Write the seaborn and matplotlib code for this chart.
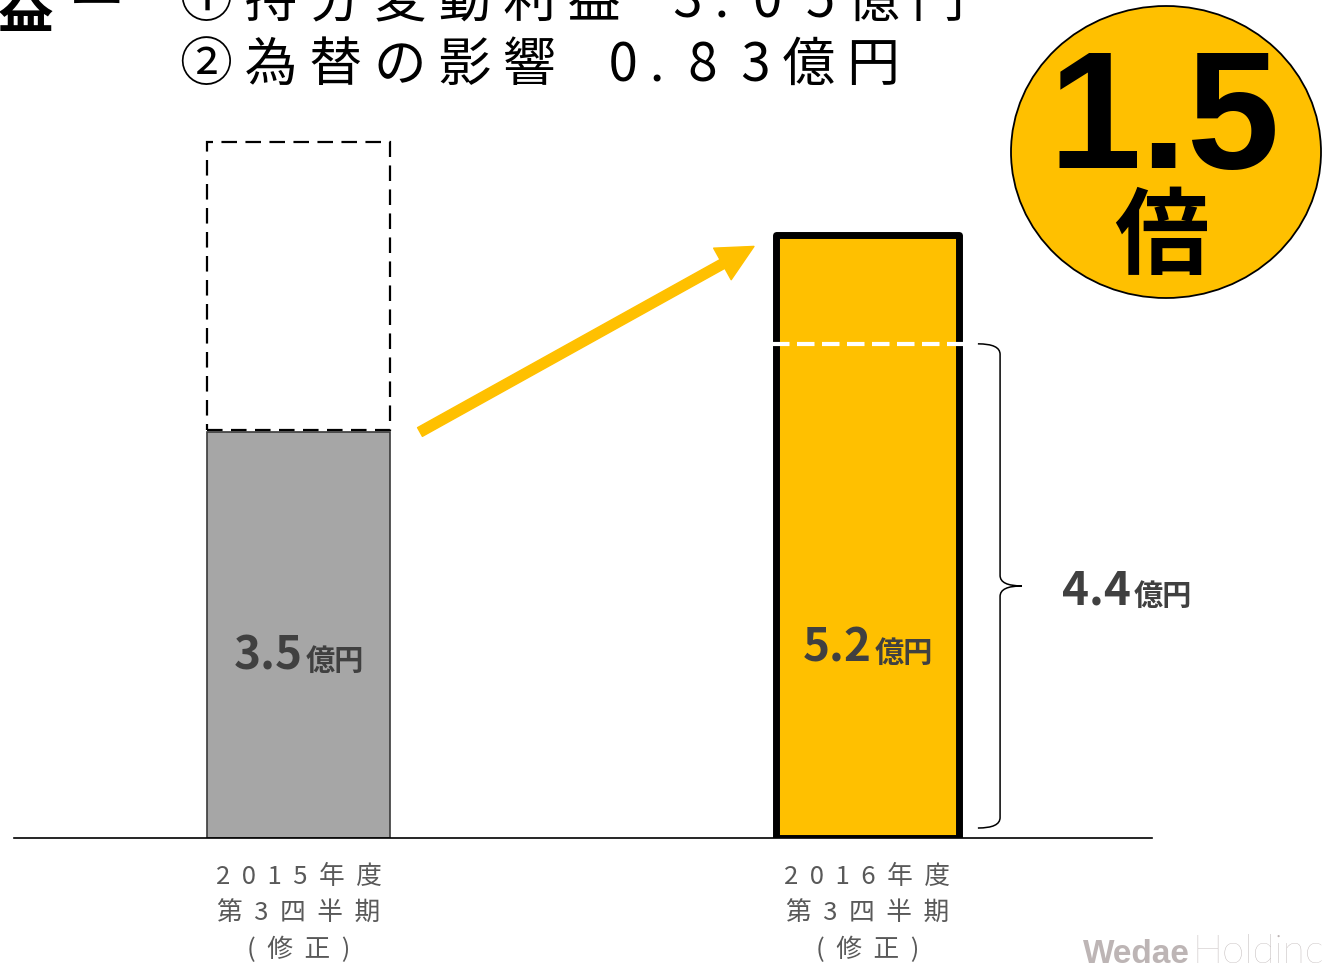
import matplotlib
matplotlib.use("Agg")
import matplotlib.pyplot as plt
import seaborn as sns
import pandas as pd
from matplotlib.patches import Rectangle, Ellipse, PathPatch
from matplotlib.path import Path

# data
periods = ["2015年度第3四半期（修正）", "2016年度第3四半期（修正）"]
profit = [3.5, 5.2]           # 億円
ghost_top = 6.0               # dashed outline above the 2015 bar
split_level = 4.26            # white dashed line inside the 2016 bar
split_value = 4.4             # 億円, shown next to the brace
ratio = 1.5
tick_labels = ["2  0  1  5  年  度\n第  3  四  半  期\n(  修  正  )",
               "2  0  1  6  年  度\n第  3  四  半  期\n(  修  正  )"]
note_lines = ["① 持 分 変 動 利 益　3 .  0  5 億 円",
              "② 為 替 の 影 響　0 .  8  3 億 円"]
bar_colors = ["#A6A6A6", "#FFC000"]

W, H = 1325, 966
sns.set_theme(style="white")
plt.rcParams["font.family"] = ["Noto Sans CJK JP", "DejaVu Sans"]

fig = plt.figure(figsize=(W / 100, H / 100), dpi=100)
ax = fig.add_axes([14 / W, 128 / H, 1138 / W, 838 / H])

df = pd.DataFrame({"period": periods, "profit": profit})
sns.barplot(data=df, x="period", y="profit", hue="period", palette=bar_colors,
            saturation=1, width=0.322, legend=False, ax=ax)

ax.set_xlim(-0.5, 1.5)
ax.set_ylim(0, 838 / 116)
for s in ["top", "right", "left"]:
    ax.spines[s].set_visible(False)
ax.spines["bottom"].set_color("black")
ax.spines["bottom"].set_linewidth(1.2)
ax.set_yticks([])
ax.set_xlabel("")
ax.set_ylabel("")
ax.set_xticks([0, 1])
ax.set_xticklabels(tick_labels, color="#595959", fontsize=18.5, linespacing=1.5)
ax.tick_params(axis="x", length=0, pad=19)

# bar outlines
gray_bar, gold_bar = ax.patches[0], ax.patches[1]
gray_bar.set_edgecolor("#3a3a3a")
gray_bar.set_linewidth(1.2)
gold_bar.set_edgecolor("black")
gold_bar.set_linewidth(5)
gold_bar.set_joinstyle("round")

# dashed outline (target) above the 2015 bar
bx = gray_bar.get_x()
bw = gray_bar.get_width()
ax.add_patch(Rectangle((bx, profit[0] + 0.02), bw, ghost_top - profit[0] - 0.02,
                       fill=False, edgecolor="black", linewidth=1.6,
                       linestyle=(0, (7, 3.8)), zorder=3))

# white dashed split line in the 2016 bar
gx = gold_bar.get_x()
gw = gold_bar.get_width()
ax.hlines(split_level, gx - 0.006, gx + gw + 0.006, colors="white",
          linewidth=3, linestyles=(0, (4.2, 1.8)), zorder=4)

# value labels
lab_kw = dict(color="#404040", fontweight="bold", va="baseline", zorder=5)
for xi, v, yl in [(0, profit[0], 1.45), (1, profit[1], 1.52), (1.455, split_value, 2.01)]:
    ax.text(xi + 0.008, yl, f"{v:.1f}", ha="right", fontsize=33, **lab_kw)
    ax.text(xi + 0.012, yl, "億円", ha="left", fontsize=21, **lab_kw)

# growth arrow
ax.annotate("", xy=(0.8005, 5.10), xytext=(0.2135, 3.50),
            arrowprops=dict(arrowstyle="simple,head_length=1.3,head_width=1.3,tail_width=0.36",
                            color="#FFC000", mutation_scale=20, shrinkA=0, shrinkB=0),
            zorder=4)

# brace for the split value
x0, x1, x2 = 1.194, 1.233, 1.2715
top, bot = split_level, 0.086
mid = (top + bot) / 2
r = 0.09
verts = [(x0, top), (x1, top), (x1, top - r), (x1, mid + r),
         (x1, mid), (x2, mid), (x1, mid), (x1, mid - r),
         (x1, bot + r), (x1, bot), (x0, bot)]
codes = [Path.MOVETO, Path.CURVE3, Path.CURVE3, Path.LINETO,
         Path.CURVE3, Path.CURVE3, Path.CURVE3, Path.CURVE3,
         Path.LINETO, Path.CURVE3, Path.CURVE3]
ax.add_patch(PathPatch(Path(verts, codes), fill=False, edgecolor="black",
                       linewidth=1.1, zorder=3))

# 1.5倍 badge
fig.add_artist(Ellipse((1166 / W, 1 - 152 / H), 310 / W, 292 / H,
                       transform=fig.transFigure, facecolor="#FFC000",
                       edgecolor="black", linewidth=1.3))
fig.text(1164 / W, 1 - 168 / H, f"{ratio}", ha="center", va="baseline",
         fontsize=120, fontweight="bold", family="Liberation Sans", color="black")
fig.text(1161 / W, 1 - 267 / H, "倍", ha="center", va="baseline",
         fontsize=68, fontweight="bold", color="black")

# notes at the top (cut off like the slide)
fig.text(180 / W, 1 - 82 / H, note_lines[1], ha="left", va="baseline",
         fontsize=38, color="black")
fig.text(180 / W, 1 - 17 / H, note_lines[0], ha="left", va="baseline",
         fontsize=38, color="black")
fig.text(-2 / W, 1 - 28 / H, "益", ha="left", va="baseline",
         fontsize=40, fontweight="bold", color="black")
fig.text(97 / W, 1 - 20 / H, "ー", ha="center", va="baseline",
         fontsize=40, fontweight="bold", color="black")

# watermark
fig.text(1083 / W, 1 - 963 / H, "Wedae", ha="left", va="baseline",
         fontsize=24, fontweight="bold", family="Liberation Sans", color="#bdb5b5")
fig.text(1192 / W, 1 - 963 / H, "Holdinc", ha="left", va="baseline",
         fontsize=29, fontweight="light", family="Lato", color="#bdb5b5")

fig.savefig("out.png", dpi=100)
